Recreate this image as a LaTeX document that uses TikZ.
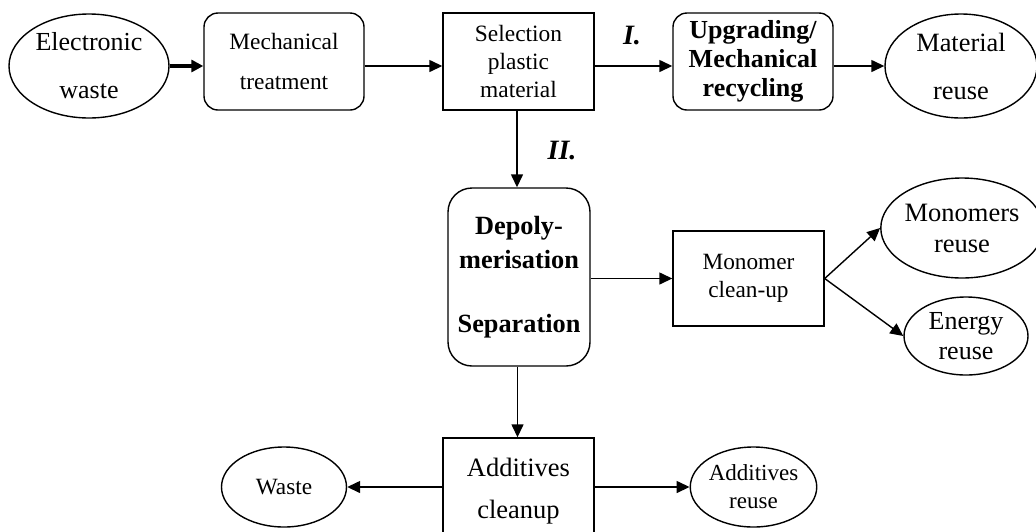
\documentclass[tikz,border=0pt]{standalone}
\usepackage{fontspec}
\setmainfont{Liberation Serif}
\usetikzlibrary{shapes.geometric,arrows.meta}
\begin{document}
\begin{tikzpicture}[x=1pt,y=-1pt,
  line width=1.4pt,
  ell/.style={ellipse, draw, inner sep=0pt, align=center},
  box/.style={rectangle, draw, inner sep=0pt, align=center},
  rbox/.style={box, rounded corners=14pt},
  arr/.style={-{Triangle[length=13pt,width=12pt]}},
  thickarr/.style={line width=3.4pt,-{Triangle[length=12pt,width=12pt]}},
  lab/.style={font=\fontsize{28}{30}\selectfont\bfseries\itshape, inner sep=0pt}
]
\useasboundingbox (0,0) rectangle (1036,531);

% row 1
\node[ell, minimum width=160pt, minimum height=104pt, font=\fontsize{26}{48}\selectfont]
  (ew) at (89,66) {Electronic\\waste};
\node[rbox, minimum width=160pt, minimum height=97pt, font=\fontsize{23.4}{40}\selectfont]
  (mt) at (284,61.5) {Mechanical\\treatment};
\node[box, minimum width=151pt, minimum height=97pt, font=\fontsize{23.4}{28}\selectfont]
  (sp) at (518.5,61.5) {Selection\\plastic\\material};
\node[rbox, minimum width=160pt, minimum height=97pt, font=\fontsize{26}{29}\selectfont\bfseries]
  (up) at (753,61.5) {Upgrading/\\Mechanical\\recycling};
\node[ell, minimum width=152pt, minimum height=104pt, font=\fontsize{26.4}{48}\selectfont]
  (mr) at (961,66) {Material\\reuse};

% middle
\node[rbox, rounded corners=24pt, minimum width=142pt, minimum height=178pt, font=\fontsize{26.3}{34}\selectfont\bfseries]
  (dp) at (519,277) {Depoly-\\merisation\\[30pt]Separation};
\node[box, minimum width=151pt, minimum height=95pt, font=\fontsize{23.3}{28}\selectfont]
  (mc) at (748.5,278.5) {Monomer\\clean-up};
\node[ell, minimum width=150pt, minimum height=100pt, font=\fontsize{26.5}{31}\selectfont]
  (mo) at (962,228) {Monomers\\reuse};
\node[ell, minimum width=124pt, minimum height=78pt, font=\fontsize{26}{30}\selectfont]
  (en) at (966,336) {Energy\\reuse};

% bottom
\node[box, minimum width=151pt, minimum height=107pt, font=\fontsize{26.5}{42}\selectfont]
  (ac) at (518.5,491.5) {Additives\\cleanup};
\node[ell, minimum width=125pt, minimum height=80pt, font=\fontsize{23.3}{28}\selectfont]
  (wa) at (284,487) {Waste};
\node[ell, minimum width=125pt, minimum height=80pt, font=\fontsize{23}{28}\selectfont]
  (ar) at (753.5,487) {Additives\\reuse};

% labels
\node[lab] (l1) at (632,36) {I.};
\node[lab] (l2) at (562,151) {II.};

% connectors
\draw[thickarr] (ew.east) -- (ew.east -| mt.west);
\draw[arr] (mt.east |- ew.east) -- (sp.west |- ew.east);
\draw[arr] (sp.east |- ew.east) -- (up.west |- ew.east);
\draw[arr] (up.east |- ew.east) -- (mr.west);
\draw[arr] (sp.south) ++(-1.5,0) coordinate (s1) -- (s1 |- dp.north);
\draw[arr] (dp.east |- mc.west) -- (mc.west);
\draw[arr] (mc.east) -- (mo.west);
\draw[arr] (mc.east) -- (en.west);
\draw[arr] (dp.south) ++(-1.5,0) coordinate (s2) -- (s2 |- ac.north);
\draw[arr] (ac.west |- wa.east) -- (wa.east);
\draw[arr] (ac.east |- wa.east) -- (ar.west);
\end{tikzpicture}
\end{document}
